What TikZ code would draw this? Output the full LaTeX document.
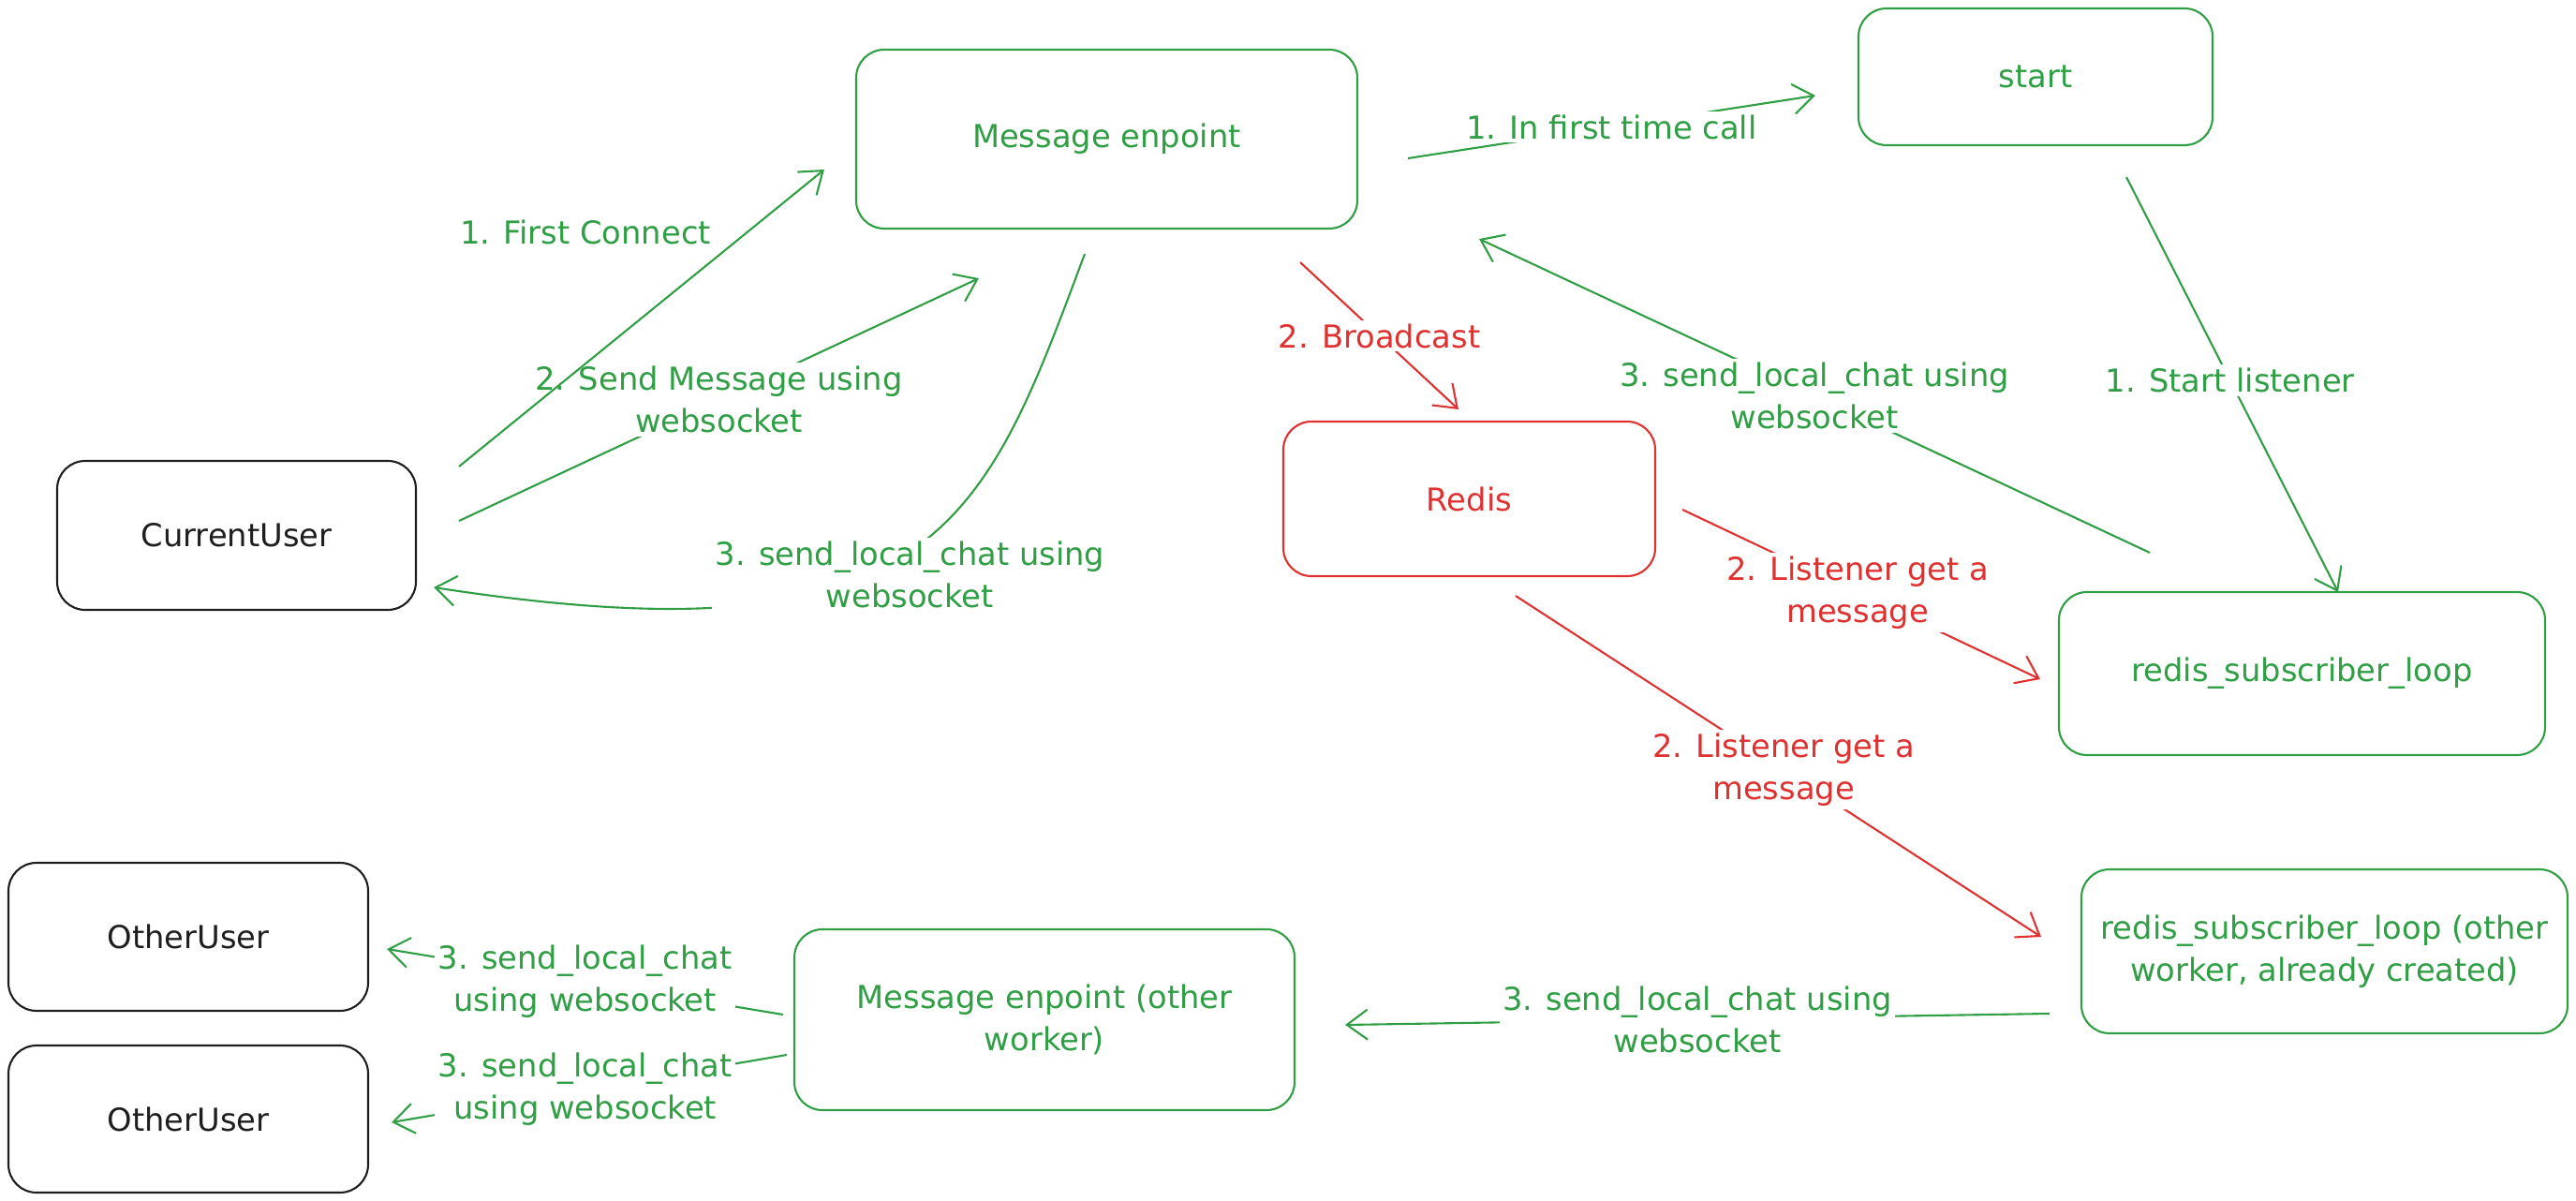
\documentclass[tikz,border=0pt]{standalone}
\usepackage{fontspec}
\setmainfont{DejaVu Sans}
\usepackage{tikz}
\usetikzlibrary{arrows.meta}
\definecolor{exgreen}{RGB}{47,158,68}
\definecolor{exred}{RGB}{224,49,49}
\definecolor{exblack}{RGB}{30,30,30}
\pgfdeclarelayer{background}
\pgfsetlayers{background,main}

\begin{document}
\begin{tikzpicture}[
  >={Straight Barb[length=2.2mm,width=3.2mm]},
  txt/.style={font=\fontsize{9.6}{12.8}\selectfont, align=center},
  box/.style={txt, draw, rounded corners=3mm, line width=0.6pt, inner sep=0pt},
  gbox/.style={box, exgreen},
  rbox/.style={box, exred},
  kbox/.style={box, exblack},
  glink/.style={->, exgreen, line width=0.6pt},
  rlink/.style={->, exred, line width=0.6pt},
  lbl/.style={txt, fill=white, inner sep=1pt}
]
\useasboundingbox (0,0) rectangle (27.5,-12.82);

% boxes
\node[kbox, minimum width=3.83cm, minimum height=1.59cm] (cu) at (2.525,-5.715) {CurrentUser};
\node[gbox, minimum width=5.35cm, minimum height=1.91cm] (me) at (11.815,-1.485) {Message enpoint};
\node[gbox, minimum width=3.78cm, minimum height=1.46cm] (start) at (21.73,-0.82) {start};
\node[rbox, minimum width=3.97cm, minimum height=1.65cm] (redis) at (15.685,-5.325) {Redis};
\node[gbox, minimum width=5.19cm, minimum height=1.74cm] (rsl) at (24.575,-7.19) {redis\_subscriber\_loop};
\node[gbox, minimum width=5.19cm, minimum height=1.75cm] (rslo) at (24.815,-10.155) {redis\_subscriber\_loop (other\\worker, already created)};
\node[gbox, minimum width=5.34cm, minimum height=1.93cm] (meo) at (11.15,-10.885) {Message enpoint (other\\worker)};
\node[kbox, minimum width=3.84cm, minimum height=1.58cm] (ou1) at (2.01,-10.0) {OtherUser};
\node[kbox, minimum width=3.84cm, minimum height=1.57cm] (ou2) at (2.01,-11.945) {OtherUser};

\begin{pgfonlayer}{background}
% current user <-> message endpoint
\draw[glink] ([shift={(0.45,0.155)}]cu.east) -- ([shift={(1.32,-0.52)}]me.south west)
  node[lbl, pos=0.5] {2. Send Message using\\websocket};
\draw[glink] ([shift={(0.45,-0.07)}]cu.north east) -- ([shift={(-0.33,-0.325)}]me.west);
\node[txt, exgreen] (first) at (6.25,-2.48) {1. First Connect};
\draw[glink] ([shift={(-0.235,-0.26)}]me.south) .. controls (10.5,-5.6) and (10.0,-7.1) .. ([shift={(0.18,-0.555)}]cu.east)
  node[lbl, pos=0.5, shift={(0,-0.25)}] {3. send\_local\_chat using\\websocket};

% start / listener
\draw[glink] ([shift={(0.53,-0.205)}]me.east) -- ([shift={(-0.45,-0.2)}]start.west)
  node[lbl, pos=0.5] {1. In first time call};
\draw[glink] ([shift={(0.97,-0.33)}]start.south) -- ([shift={(0.385,-0.01)}]rsl.north)
  node[lbl, pos=0.49] {1. Start listener};
\draw[glink] ([shift={(0.98,0.41)}]rsl.north west) -- ([shift={(1.29,-0.10)}]me.south east)
  node[lbl, pos=0.5] {3. send\_local\_chat using\\websocket};

% redis
\draw[rlink] ([shift={(-0.62,-0.35)}]me.south east) -- ([shift={(-0.115,0.12)}]redis.north)
  node[lbl, pos=0.5] {2. Broadcast};
\draw[rlink] ([shift={(0.28,-0.115)}]redis.east) -- ([shift={(-0.19,-0.06)}]rsl.west)
  node[lbl, pos=0.49] {2. Listener get a\\message};
\draw[rlink] ([shift={(0.495,-0.2)}]redis.south) -- ([shift={(-0.42,0.155)}]rslo.west)
  node[lbl, pos=0.51] {2. Listener get a\\message};

% other worker
\draw[glink] ([shift={(-0.33,-0.665)}]rslo.west) -- ([shift={(0.53,-0.055)}]meo.east)
  node[lbl, pos=0.5] {3. send\_local\_chat using\\websocket};
\draw[glink] ([shift={(-0.11,0.055)}]meo.west) -- ([shift={(0.19,-0.13)}]ou1.east)
  node[lbl, pos=0.5] {3. send\_local\_chat\\using websocket};
\draw[glink] ([shift={(-0.07,-0.375)}]meo.west) -- ([shift={(0.24,-0.035)}]ou2.east)
  node[lbl, pos=0.51] {3. send\_local\_chat\\using websocket};
\end{pgfonlayer}
\end{tikzpicture}
\end{document}
